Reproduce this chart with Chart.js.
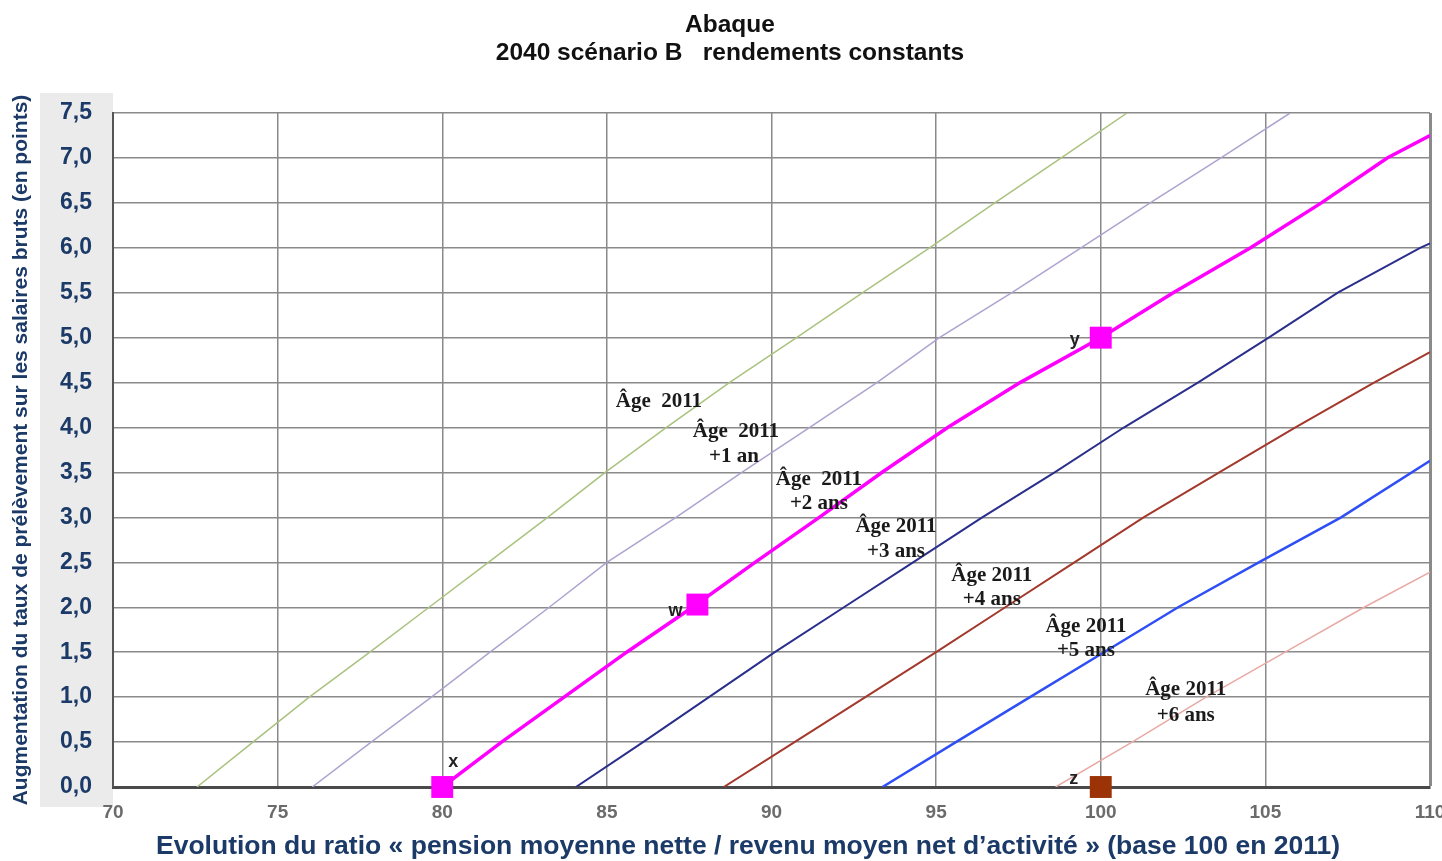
<!DOCTYPE html>
<html>
<head>
<meta charset="utf-8">
<script src="https://cdn.jsdelivr.net/npm/chart.js@4"></script>
<style>
  html, body { margin: 0; padding: 0; background: #fff; }
  canvas { display: block; }
</style>
</head>
<body>
<canvas id="myChart" width="1442" height="861"></canvas>
<script>
var age2011 = [[72.55, 0], [74.25, 0.5], [75.96, 1], [77.8, 1.5], [79.6, 2], [81.4, 2.5], [83.2, 3], [84.95, 3.5], [86.8, 4], [88.72, 4.5], [90.76, 5], [92.77, 5.5], [94.8, 6], [96.78, 6.5], [98.8, 7], [100.8, 7.5]];
var age2011p1 = [[76.05, 0], [77.84, 0.5], [79.67, 1], [81.45, 1.5], [83.25, 2], [85.0, 2.5], [87.1, 3], [89.1, 3.5], [91.15, 4], [93.2, 4.5], [95.1, 5], [97.3, 5.5], [99.4, 6], [101.5, 6.5], [103.65, 7], [105.75, 7.5]];
var age2011p2 = [[80, 0], [81.8, 0.5], [83.7, 1], [85.6, 1.5], [87.6, 2], [89.5, 2.5], [91.45, 3], [93.35, 3.5], [95.35, 4], [97.55, 4.5], [100, 5], [102.2, 5.5], [104.55, 6], [106.7, 6.5], [108.7, 7], [110, 7.25]];
var age2011p3 = [[84.06, 0], [86.1, 0.5], [88.1, 1], [90.1, 1.5], [92.2, 2], [94.3, 2.5], [96.4, 3], [98.6, 3.5], [100.7, 4], [102.95, 4.5], [105.1, 5], [107.2, 5.5], [109.7, 6], [110, 6.05]];
var age2011p4 = [[88.55, 0], [90.7, 0.5], [92.85, 1], [95.0, 1.5], [97.1, 2], [99.2, 2.5], [101.3, 3], [103.6, 3.5], [105.9, 4], [108.3, 4.5], [110, 4.84]];
var age2011p5 = [[93.37, 0], [95.6, 0.5], [97.85, 1], [100.1, 1.5], [102.35, 2], [104.8, 2.5], [107.3, 3], [110, 3.63]];
var age2011p6 = [[98.63, 0], [100.95, 0.5], [103.2, 1], [105.6, 1.5], [108.0, 2], [110, 2.39]];

// points repères
var pointsMagenta = [[80, 0], [87.75, 2.03], [100, 5.0]];
var pointsMagentaNoms = ['x', 'w', 'y'];
var pointsBrun = [[100, 0]];
var pointsBrunNoms = ['z'];

// étiquettes des courbes (position en unités des axes)
var etiquettesCourbes = [
    [86.58, 4.29, 'Âge  2011'],
    [88.92, 3.95, 'Âge  2011'], [88.86, 3.68, '+1 an'],
    [91.44, 3.42, 'Âge  2011'], [91.44, 3.15, '+2 ans'],
    [93.78, 2.90, 'Âge 2011'], [93.78, 2.62, '+3 ans'],
    [96.69, 2.35, 'Âge 2011'], [96.69, 2.09, '+4 ans'],
    [99.55, 1.79, 'Âge 2011'], [99.55, 1.52, '+5 ans'],
    [102.58, 1.08, 'Âge 2011'], [102.58, 0.79, '+6 ans']
];

var titre = ['Abaque', '2040 scénario B   rendements constants'];
var titreX = 'Evolution du ratio « pension moyenne nette / revenu moyen net d\u2019activité » (base 100 en 2011)';
var titreY = 'Augmentation du taux de prélèvement sur les salaires bruts (en points)';

function pts(arr) {
    return arr.map(function (p) { return { x: p[0], y: p[1] }; });
}

function courbe(label, arr, color, width) {
    return {
        label: label,
        data: pts(arr),
        borderColor: color,
        backgroundColor: color,
        borderWidth: width,
        pointRadius: 0,
        showLine: true,
        tension: 0
    };
}

function reperes(label, arr, color) {
    return {
        label: label,
        data: pts(arr),
        showLine: false,
        pointStyle: 'rect',
        pointRadius: 15.5,
        pointBackgroundColor: color,
        pointBorderWidth: 0,
        clip: false
    };
}

var NAVY = '#1b3a68';
var SANS = '"Liberation Sans", Arial, sans-serif';

// fond gris des graduations + textes
var decor = {
    id: 'decor',
    beforeDraw: function (chart) {
        var c = chart.ctx, a = chart.chartArea;
        c.save();
        c.fillStyle = '#ffffff';
        c.fillRect(0, 0, chart.width, chart.height);
        c.fillStyle = '#ebebeb';
        c.fillRect(40, a.top - 20, a.left - 40, a.bottom - a.top + 40);
        c.restore();
    },
    afterDraw: function (chart) {
        var c = chart.ctx;
        var xs = chart.scales.x, ys = chart.scales.y;
        c.save();
        c.textAlign = 'center';
        c.textBaseline = 'middle';

        c.fillStyle = '#111';
        c.font = 'bold 24.5px ' + SANS;
        c.fillText(titre[0], 730, 25);
        c.fillText(titre[1], 730, 53);

        c.fillStyle = NAVY;
        c.font = 'bold 26.5px ' + SANS;
        c.fillText(titreX, 748, 847);

        c.fillStyle = '#1a1a1a';
        c.font = 'bold 21px "Liberation Serif", "Times New Roman", serif';
        etiquettesCourbes.forEach(function (e) {
            c.fillText(e[2], xs.getPixelForValue(e[0]), ys.getPixelForValue(e[1]));
        });

        c.fillStyle = '#222';
        c.font = 'bold 18px ' + SANS;
        var dx = [11, -22, -26];
        var dy = [-25, 6, 2];
        pointsMagenta.forEach(function (p, i) {
            c.fillText(pointsMagentaNoms[i], xs.getPixelForValue(p[0]) + dx[i], ys.getPixelForValue(p[1]) + dy[i]);
        });
        pointsBrun.forEach(function (p, i) {
            c.fillText(pointsBrunNoms[i], xs.getPixelForValue(p[0]) - 27, ys.getPixelForValue(p[1]) - 8);
        });
        c.restore();
    }
};

var ctx = document.getElementById('myChart').getContext('2d');
var myChart = new Chart(ctx, {
    type: 'scatter',
    data: {
        datasets: [
            courbe('Âge 2011', age2011, '#aac27e', 1.5),
            courbe('Âge 2011 +1 an', age2011p1, '#aea3cf', 1.5),
            courbe('Âge 2011 +2 ans', age2011p2, '#ff00ff', 3.5),
            courbe('Âge 2011 +3 ans', age2011p3, '#2b2f8c', 2),
            courbe('Âge 2011 +4 ans', age2011p4, '#a3392c', 2),
            courbe('Âge 2011 +5 ans', age2011p5, '#2f4ff5', 2.5),
            courbe('Âge 2011 +6 ans', age2011p6, '#e8a9a4', 1.5),
            reperes('x w y', pointsMagenta, '#ff00ff'),
            reperes('z', pointsBrun, '#9b3306')
        ]
    },
    options: {
        responsive: false,
        animation: false,
        layout: { autoPadding: false, padding: { top: 113, right: 12, bottom: 0, left: 0 } },
        plugins: {
            legend: { display: false },
            tooltip: { enabled: false }
        },
        scales: {
            x: {
                type: 'linear',
                min: 70,
                max: 110,
                afterFit: function (s) { s.height = 74; s.paddingLeft = 0; s.paddingRight = 0; },
                ticks: {
                    stepSize: 5,
                    padding: 14,
                    color: '#6b6b6b',
                    font: { family: SANS, size: 19, weight: 'bold' },
                    maxRotation: 0
                },
                grid: {
                    color: '#8a8a8a',
                    lineWidth: function (c) { return c.tick && c.tick.value === 110 ? 3 : 1.5; },
                    drawTicks: false
                },
                border: { color: '#4a4a4a', width: 3 }
            },
            y: {
                min: 0,
                max: 7.5,
                afterFit: function (s) { s.width = 113; },
                ticks: {
                    stepSize: 0.5,
                    padding: 21,
                    color: NAVY,
                    font: { family: SANS, size: 23, weight: 'bold' },
                    callback: function (v) { return v.toFixed(1).replace('.', ','); }
                },
                grid: {
                    color: '#8a8a8a',
                    lineWidth: 1.5,
                    drawTicks: false
                },
                border: { color: '#555', width: 2 },
                title: {
                    display: true,
                    text: titreY,
                    color: NAVY,
                    font: { family: SANS, size: 21, weight: 'bold' },
                    padding: { top: 9, bottom: 0 }
                }
            }
        }
    },
    plugins: [decor]
});
</script>
</body>
</html>
